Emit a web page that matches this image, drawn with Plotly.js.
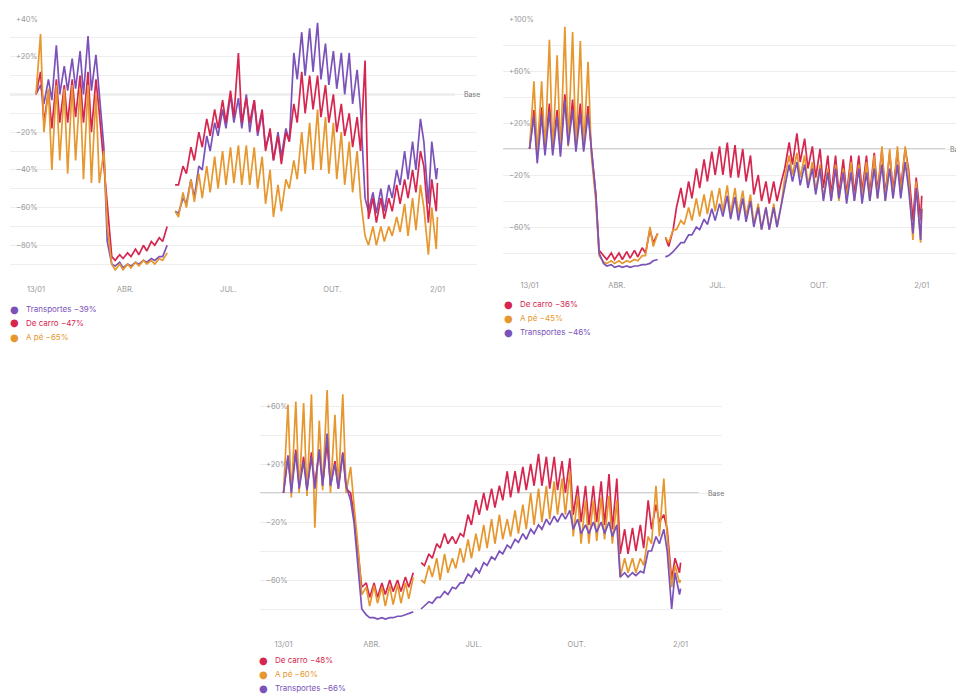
<!DOCTYPE html>
<html><head><meta charset="utf-8">
<script src="https://cdn.plot.ly/plotly-3.0.1.min.js"></script>
<style>html,body{margin:0;padding:0;background:#fff}#chart{width:956px;height:695px}</style>
</head><body><div id="chart"></div>
<script>
// Dates: series start 13/01/2020; each week gives a Monday (weekly low) and a Friday (weekly high), last point 2/01/2021
const weeks = 51;
const lastDay = 355;
const tickDays = [0, 79, 170, 262, 355];
const tickLabels = ['13/01', 'ABR.', 'JUL.', 'OUT.', '2/01'];

// Panel 1 (top left)
const transit1 = [0,5, -5,8, -3,26, 0,15, 2,19, 3,23, 0,31, 2,21, 0,-28, -78,-90, -91,-89, -92,-90, -91,-89, -90,-88, -89,-87, -88,-86, -86,-80, null,-62, -63,-55, -58,-45, -55,-38, -40,-22, -30,-15, -22,-8, -18,0, -15,-2, -18,0, -20,-3, -22,-10, -28,-20, -35,-20, -33,-18, -25,22, 8,33, 10,35, 12,38, 8,27, 5,23, 3,22, 0,22, -5,13, -8,-55, -62,-52, -63,-50, -62,-48, -55,-40, -48,-30, -45,-25, -40,-13, -25,-58, -25,-45, -39];
const driving1 = [0,12, -15,2, -18,8, -15,5, -15,8, -12,10, -15,12, -20,8, -10,-40, -58,-86, -88,-85, -87,-84, -86,-82, -85,-80, -83,-78, -80,-76, -78,-70, null,-48, -48,-38, -42,-28, -35,-20, -28,-13, -22,-8, -18,-3, -15,2, -12,22, -15,-2, -15,-3, -20,-8, -30,-18, -35,-22, -37,-20, -25,-5, -15,12, -10,10, -8,10, -12,5, -15,0, -20,-5, -22,-10, -28,-12, -30,18, -66,-55, -68,-55, -66,-55, -62,-48, -58,-45, -55,-40, -52,-30, -38,-68, -45,-62, -47];
const walking1 = [0,32, -20,3, -40,5, -35,3, -42,5, -35,3, -45,5, -47,0, -47,-30, -70,-90, -93,-90, -93,-90, -92,-89, -91,-88, -90,-88, -90,-87, -88,-84, null,-62, -65,-52, -60,-45, -57,-42, -55,-38, -52,-33, -50,-30, -48,-28, -47,-27, -48,-27, -48,-28, -50,-33, -58,-40, -65,-48, -62,-45, -50,-35, -45,-20, -42,-15, -40,-8, -40,-12, -42,-15, -45,-20, -48,-25, -52,-30, -55,-75, -80,-70, -80,-70, -78,-70, -75,-65, -73,-58, -75,-55, -72,-48, -60,-85, -60,-82, -65];

// Panel 2 (top right)
const driving2 = [0,30, -5,32, 0,35, 0,30, 0,42, 5,38, 3,35, 3,33, 0,-35, -78,-82, -85,-80, -85,-80, -85,-79, -84,-78, -83,-76, -80,-62, -72,-65, null,-68, -75,-62, -45,-30, -45,-25, -38,-15, -30,-8, -25,-2, -20,2, -20,5, -22,3, -22,0, -25,-5, -35,-20, -40,-25, -42,-25, -40,-25, -15,5, -12,12, -10,8, -15,2, -22,0, -30,-5, -35,-5, -35,-8, -35,-5, -35,-5, -33,-5, -35,-3, -33,0, -35,-3, -32,-2, -30,0, -15,-55, -22,-55, -36];
const walking2 = [0,52, -3,52, -2,84, -3,72, -3,94, 2,90, 0,83, 0,67, -5,-40, -82,-87, -88,-86, -88,-86, -88,-86, -87,-85, -86,-82, -82,-60, -75,-65, null,-68, -72,-62, -62,-55, -58,-45, -55,-38, -52,-35, -50,-32, -48,-30, -48,-28, -50,-30, -50,-32, -52,-35, -58,-42, -62,-45, -62,-42, -60,-42, -22,-5, -20,-3, -22,-5, -28,-10, -32,-12, -38,-15, -40,-12, -40,-15, -38,-10, -40,-12, -38,-10, -40,-5, -38,2, -40,0, -38,2, -36,2, -20,-70, -25,-72, -45];
const transit2 = [0,25, -11,26, -5,29, -5,25, -6,38, 3,30, -2,27, -2,27, 0,-35, -80,-88, -90,-89, -91,-90, -91,-90, -91,-90, -90,-89, -89,-88, -86,-85, null,-83, -82,-79, -76,-72, -72,-66, -66,-60, -62,-54, -58,-46, -55,-42, -52,-36, -54,-37, -55,-38, -56,-40, -60,-45, -62,-45, -62,-45, -60,-42, -28,-12, -25,-10, -28,-12, -30,-15, -35,-15, -40,-18, -40,-15, -38,-18, -42,-18, -40,-15, -42,-18, -40,-15, -38,-12, -40,-15, -38,-12, -38,-10, -30,-65, -30,-70, -46];

// Panel 3 (bottom)
const driving3 = [0,25, 3,30, 5,25, 3,28, 5,30, 5,35, 5,22, 3,28, 3,0, -15,-45, -65,-62, -72,-62, -72,-62, -70,-60, -68,-60, -68,-58, -65,-55, null,-48, -50,-42, -45,-35, -38,-28, -35,-30, -35,-28, -30,-15, -22,-5, -15,0, -12,3, -10,5, -5,15, -3,15, 0,18, 2,20, 5,27, 5,25, 3,25, 2,22, 0,24, -15,5, -20,5, -22,5, -20,8, -22,13, -25,10, -42,-25, -42,-24, -40,-22, -38,-5, -25,-8, -20,-15, -25,-60, -45,-55, -48];
const walking3 = [0,61, -3,63, 0,62, -2,68, -24,50, 2,71, 0,54, 3,68, 0,18, -8,-40, -70,-65, -78,-64, -76,-65, -78,-64, -77,-63, -76,-62, -73,-58, null,-60, -62,-50, -58,-45, -60,-42, -55,-45, -52,-38, -48,-32, -45,-28, -40,-22, -38,-18, -35,-15, -32,-18, -30,-12, -28,-8, -25,0, -22,3, -20,5, -18,8, -15,10, -15,15, -30,-2, -35,-5, -35,-5, -33,-3, -32,-2, -35,-5, -58,-45, -55,-45, -55,-45, -50,-30, -35,5, -30,10, -30,-65, -50,-62, -60];
const transit3 = [0,26, 0,28, 3,22, 2,25, 3,30, 5,41, 5,20, 3,27, 5,-5, -20,-55, -80,-84, -86,-86, -87,-86, -87,-86, -86,-85, -85,-84, -83,-82, null,-80, -78,-75, -76,-72, -72,-68, -70,-65, -66,-62, -62,-56, -58,-52, -55,-48, -50,-44, -46,-40, -42,-36, -38,-32, -34,-28, -32,-25, -28,-22, -25,-18, -22,-16, -20,-14, -18,-12, -25,-18, -28,-22, -28,-20, -27,-20, -28,-20, -30,-22, -58,-55, -58,-55, -57,-54, -55,-40, -40,-30, -35,-25, -40,-80, -55,-70, -66];

// Grid lines and labelled values of the value axes
const yGrid1 = [-100,-90,-80,-70,-60,-50,-40,-30,-20,-10,0,10,20,30,40];
const yLabelVals1 = [40, 20, -20, -40, -60, -80];
const yLabels1 = ['+40%', '+20%', '−20%', '−40%', '−60%', '−80%'];
const yGrid2 = [-100,-80,-60,-40,-20,0,20,40,60,80,100];
const yLabelVals2 = [100, 60, 20, -20, -60];
const yLabels2 = ['+100%', '+60%', '+20%', '−20%', '−60%'];
const yGrid3 = [-100,-80,-60,-40,-20,0,20,40,60,80];
const yLabelVals3 = [60, 20, -20, -60];
const yLabels3 = ['+60%', '+20%', '−20%', '−60%'];

const legend1 = ['Transportes −39%', 'De carro −47%', 'A pé −65%'];
const legend2 = ['De carro −36%', 'A pé −45%', 'Transportes −46%'];
const legend3 = ['De carro −48%', 'A pé −60%', 'Transportes −66%'];

const C_T = '#7b52b9', C_D = '#d6264f', C_W = '#e6972e';

function dayToISO(d) {
  return new Date(Date.UTC(2020, 0, 13) + d * 86400000).toISOString().slice(0, 10);
}
const sampleDays = [];
for (let k = 0; k < weeks; k++) { sampleDays.push(7 * k, 7 * k + 4); }
sampleDays.push(lastDay);
const xDates = sampleDays.map(dayToISO);

function tr(y, color, xa, ya) {
  return {x: xDates, y: y, type: 'scatter', mode: 'lines', xaxis: xa, yaxis: ya,
    line: {color: color, width: 1.7}, connectgaps: false, hoverinfo: 'skip', showlegend: false};
}
const data = [
  tr(transit1, C_T, 'x', 'y'), tr(driving1, C_D, 'x', 'y'), tr(walking1, C_W, 'x', 'y'),
  tr(driving2, C_D, 'x2', 'y2'), tr(walking2, C_W, 'x2', 'y2'), tr(transit2, C_T, 'x2', 'y2'),
  tr(driving3, C_D, 'x3', 'y3'), tr(walking3, C_W, 'x3', 'y3'), tr(transit3, C_T, 'x3', 'y3')
];

const W = 956, H = 695;
const FONT = 'Inter, "Open Sans", sans-serif';
function xAx(px0, px1, d0, d1, anchor) {
  return {domain: [px0 / W, Math.min(px1 / W, 1)], range: [dayToISO(d0), dayToISO(d1)], type: 'date',
    tickmode: 'array', tickvals: tickDays.map(dayToISO), ticktext: tickLabels, showgrid: false, zeroline: false,
    showline: false, ticks: '', ticklabeloverflow: 'allow', tickfont: {size: 7.5, color: '#9a9a9a', family: FONT},
    anchor: anchor, fixedrange: true};
}
function yAx(pyTop, pyBot, r, tv, anchor) {
  return {domain: [1 - pyBot / H, 1 - pyTop / H], range: r, tickmode: 'array', tickvals: tv,
    showticklabels: false, showgrid: true, gridcolor: '#eeeeee', gridwidth: 1, zeroline: false,
    showline: false, ticks: '', anchor: anchor, fixedrange: true};
}

const annotations = [];
const shapes = [];
function baseLine(xa, ya, frac, labelFrac) {
  shapes.push({type: 'line', xref: xa + ' domain', yref: ya, x0: 0, x1: frac, y0: 0, y1: 0,
    line: {color: '#c2c2c2', width: 1.5}, layer: 'below'});
  annotations.push({xref: xa + ' domain', yref: ya, x: labelFrac, y: 0, text: 'Base', showarrow: false,
    xanchor: 'left', yanchor: 'middle', font: {size: 7, color: '#777', family: FONT}});
}
baseLine('x', 'y', 0.953, 0.968);
baseLine('x2', 'y2', 0.976, 0.982);
baseLine('x3', 'y3', 0.950, 0.966);

function yLabels(xa, ya, vals, texts, xFrac) {
  vals.forEach((v, i) => annotations.push({xref: xa + ' domain', yref: ya, x: xFrac, y: v, text: texts[i],
    showarrow: false, xanchor: 'left', yanchor: 'middle', font: {size: 7.5, color: '#9a9a9a', family: FONT}}));
}
yLabels('x', 'y', yLabelVals1, yLabels1, 0.008);
yLabels('x2', 'y2', yLabelVals2, yLabels2, 0.008);
yLabels('x3', 'y3', yLabelVals3, yLabels3, 0.008);

function legend(items, colors, xDot, yFirst) {
  items.forEach((t, i) => {
    const yp = 1 - (yFirst + 14 * i) / H;
    annotations.push({xref: 'paper', yref: 'paper', x: xDot / W, y: yp, text: '●', showarrow: false,
      xanchor: 'center', yanchor: 'middle', font: {size: 10, color: colors[i], family: 'DejaVu Sans'}});
    annotations.push({xref: 'paper', yref: 'paper', x: (xDot + 10) / W, y: yp, text: t, showarrow: false,
      xanchor: 'left', yanchor: 'middle', font: {size: 8, color: colors[i], family: FONT}});
  });
}
legend(legend1, [C_T, C_D, C_W], 14, 309);
legend(legend2, [C_D, C_W, C_T], 508, 304);
legend(legend3, [C_D, C_W, C_T], 263, 660);

const layout = {
  width: W, height: H, margin: {l: 0, r: 0, t: 0, b: 0},
  paper_bgcolor: '#ffffff', plot_bgcolor: '#ffffff', showlegend: false,
  xaxis: xAx(10, 477, -23, 390, 'y'),
  yaxis: yAx(19, 283, [-100, 40], yGrid1, 'x'),
  xaxis2: xAx(503, 956, -23.8, 386, 'y2'),
  yaxis2: yAx(19, 279, [-100, 100], yGrid2, 'x2'),
  xaxis3: xAx(260, 722, -20.9, 392.6, 'y3'),
  yaxis3: yAx(377, 638, [-100, 80], yGrid3, 'x3'),
  shapes: shapes, annotations: annotations
};
Plotly.newPlot('chart', data, layout, {staticPlot: true, displayModeBar: false});
</script></body></html>
